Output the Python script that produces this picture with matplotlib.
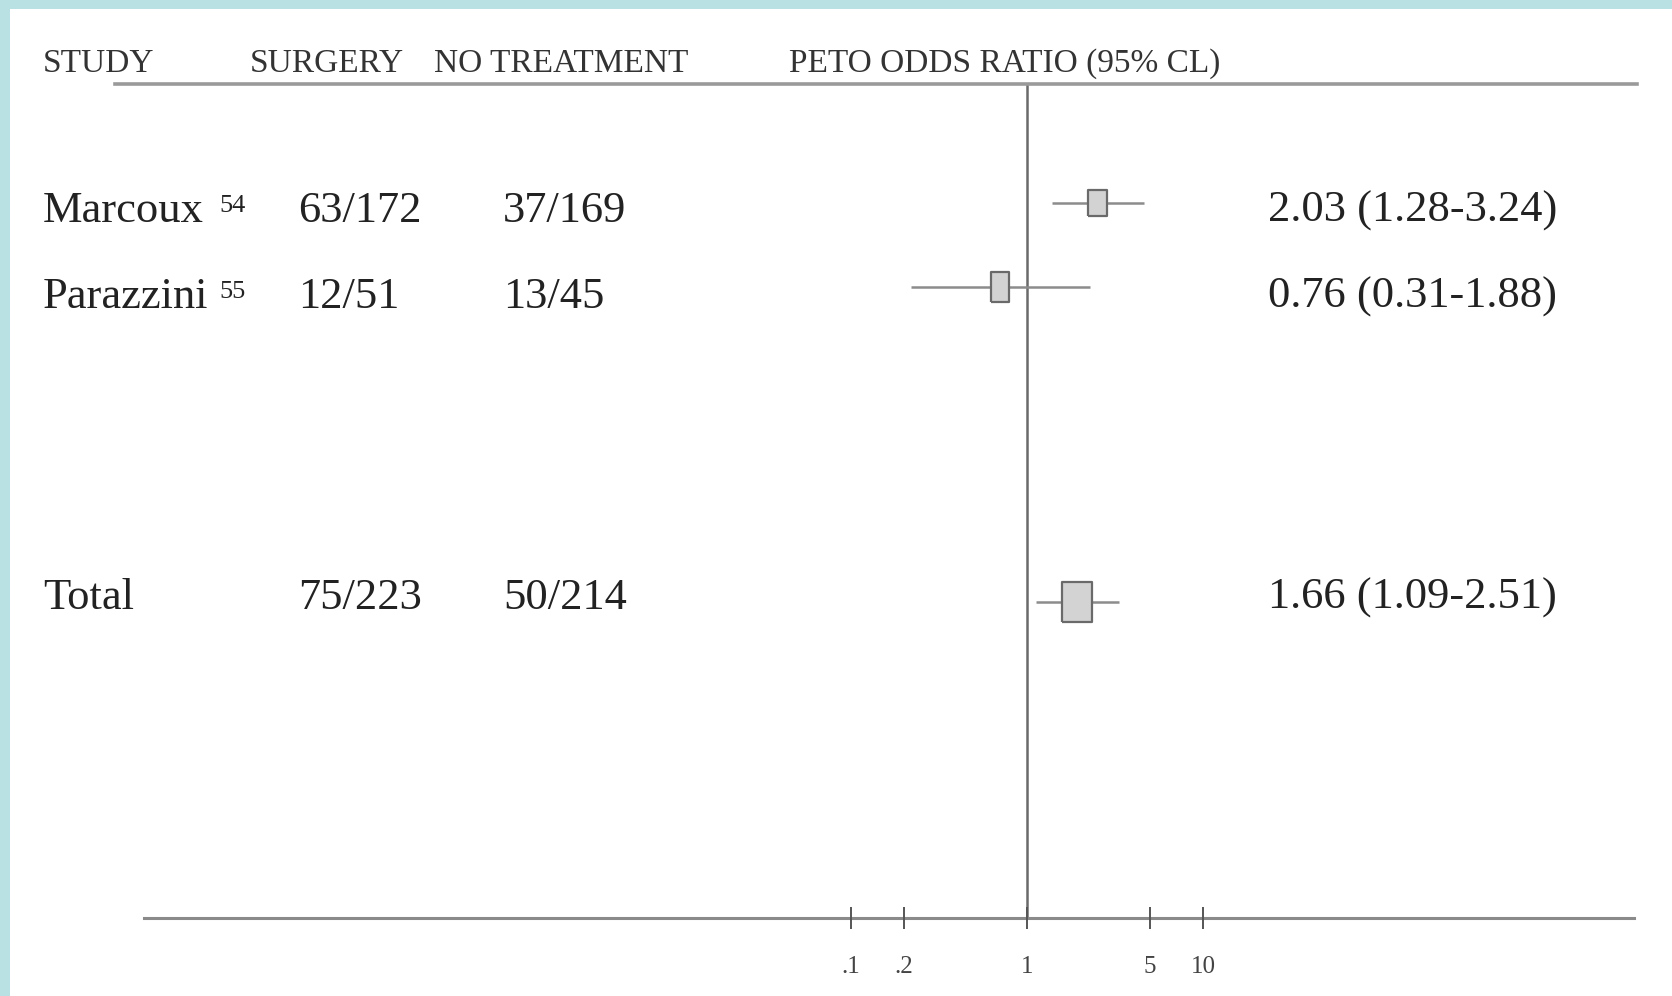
"""Peto odds ratio forest plot: surgery vs no treatment"""
import matplotlib.pyplot as plt
from matplotlib.lines import Line2D
from matplotlib.patches import Rectangle
from matplotlib.ticker import NullLocator, FixedLocator, FixedFormatter
from matplotlib.transforms import blended_transform_factory

# Study data
studies = ["Marcoux", "Parazzini", "Total"]
refs = ["54", "55", ""]
surgery = ["63/172", "12/51", "75/223"]
no_treatment = ["37/169", "13/45", "50/214"]
odds_ratio = [2.03, 0.76, 1.66]
ci_low = [1.28, 0.31, 1.09]
ci_high = [3.24, 1.88, 2.51]

# Scale shown under the plot
scale_ticks = [0.1, 0.2, 1, 5, 10]
scale_labels = [".1", ".2", "1", "5", "10"]

W, H = 1672, 996
BLUE = "#b9e0e3"
SERIF = "Liberation Serif"

# row slots (in units of one row) for the boxes and for the text baselines
mark_rows = [0, 1, 4.75]
text_rows = [0.226, 1.25, 4.83]
# left edge of each text column, pixels
col_x = {"study": 43, "ref": 219, "surgery": 298, "none": 503, "or": 1268}
# box size in pixels (width, height)
box_w = [19, 18, 31]
box_h = [26, 30, 40]


def fx(px):
    return px / W


def fy(py):
    return 1 - py / H


def main():
    fig = plt.figure(figsize=(W / 100, H / 100), dpi=100)
    fig.patch.set_facecolor("white")

    # light blue frame on the top and left
    fig.add_artist(Rectangle((0, fy(9)), 1, 9 / H, transform=fig.transFigure,
                             color=BLUE, lw=0, zorder=0))
    fig.add_artist(Rectangle((0, 0), fx(10), 1, transform=fig.transFigure,
                             color=BLUE, lw=0, zorder=0))

    # plotting area between the header rule and the scale line
    rect = [fx(144), fy(918), fx(1634 - 144), (918 - 84) / H]
    ax = fig.add_axes(rect)
    ax.set_xscale("log")
    # 1 sits at x=1027 px, 229 px per decade
    ax.set_xlim(10 ** ((144 - 1027) / 229), 10 ** ((1634 - 1027) / 229))
    ax.set_ylim((918 - 203) / 84, (84 - 203) / 84)
    for side in ["top", "left", "right"]:
        ax.spines[side].set_visible(False)
    ax.spines["bottom"].set_color("#8a8a8a")
    ax.spines["bottom"].set_linewidth(2.2)
    ax.xaxis.set_major_locator(NullLocator())
    ax.xaxis.set_minor_locator(NullLocator())
    ax.set_yticks([])
    ax.patch.set_alpha(0)

    # line of no effect
    ax.axvline(1, color="#6a6a6a", lw=1.8)

    # confidence intervals and boxes
    ax.hlines(mark_rows, ci_low, ci_high, color="#8c8c8c", lw=1.8)
    for x, y, bw, bh in zip(odds_ratio, mark_rows, box_w, box_h):
        r = bw / bh
        verts = [(-r, -1), (r, -1), (r, 1), (-r, 1), (-r, -1)]
        ax.plot([x], [y], marker=verts, markersize=bh * 0.72,
                markerfacecolor="#d3d3d3", markeredgecolor="#6a6a6a",
                markeredgewidth=1.6, linestyle="none", zorder=3)

    # scale ticks drawn on their own axis
    ax2 = fig.add_axes(rect, frameon=False)
    ax2.set_xscale("log")
    ax2.set_xlim(10 ** ((144 - 1027) / 176), 10 ** ((1634 - 1027) / 176))
    ax2.xaxis.set_major_locator(FixedLocator(scale_ticks))
    ax2.xaxis.set_major_formatter(FixedFormatter(scale_labels))
    ax2.xaxis.set_minor_locator(NullLocator())
    ax2.set_yticks([])
    ax2.tick_params(axis="x", direction="inout", length=16, width=1.4,
                    color="#555555", pad=19, labelsize=18,
                    labelcolor="#444444")
    for lab in ax2.get_xticklabels():
        lab.set_fontfamily(SERIF)

    # header rule and header text
    fig.add_artist(Line2D([fx(115), fx(1637)], [fy(84), fy(84)],
                          transform=fig.transFigure, color="#9a9a9a", lw=2.6))
    head = dict(fontsize=24, family=SERIF, color="#333333", va="baseline")
    fig.text(fx(43), fy(72), "STUDY", **head)
    fig.text(fx(250), fy(72), "SURGERY", **head)
    fig.text(fx(434), fy(72), "NO TREATMENT", **head)
    fig.text(fx(789), fy(72), "PETO ODDS RATIO (95% CL)", **head)

    # table columns
    tr = blended_transform_factory(fig.transFigure, ax.transData)
    body = dict(fontsize=32, family=SERIF, color="#222222", va="baseline",
                ha="left", transform=tr)
    for i, y in enumerate(text_rows):
        ax.text(fx(col_x["study"]), y, studies[i], **body)
        if refs[i]:
            ax.text(fx(col_x["ref"]), y - 0.12, refs[i], ha="left",
                    fontsize=19, family=SERIF, color="#222222",
                    va="baseline", transform=tr)
        ax.text(fx(col_x["surgery"]), y, surgery[i], **body)
        ax.text(fx(col_x["none"]), y, no_treatment[i], **body)
        label = f"{odds_ratio[i]:.2f} ({ci_low[i]:.2f}-{ci_high[i]:.2f})"
        ax.text(fx(col_x["or"]), y, label, **body)

    fig.savefig("out.png", dpi=100, facecolor="white")


if __name__ == "__main__":
    main()
